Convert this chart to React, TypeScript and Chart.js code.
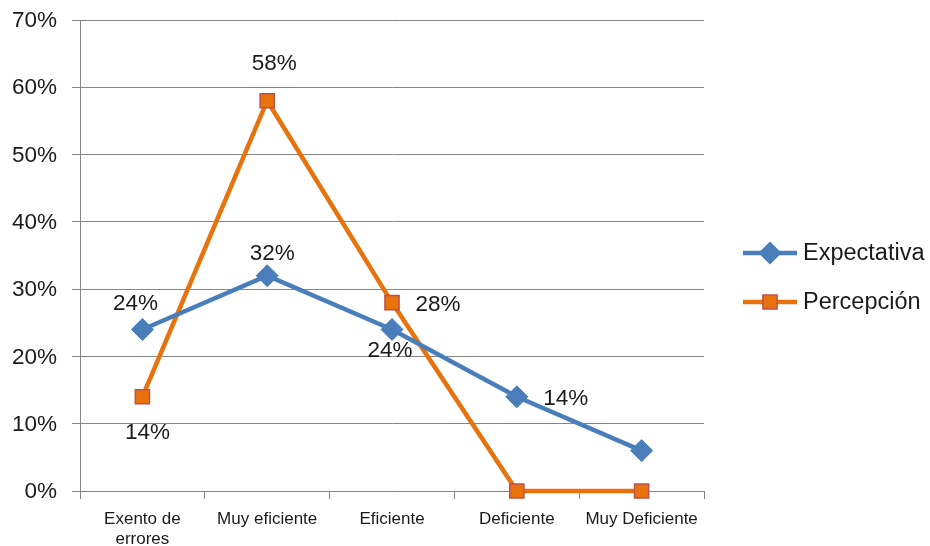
import React, { useEffect, useRef } from "react";
import { Chart, registerables } from "chart.js";

Chart.register(...registerables);

const categories: (string | string[])[] = [
  ["Exento de", "errores"],
  "Muy eficiente",
  "Eficiente",
  "Deficiente",
  "Muy Deficiente",
];
const expectativa = [24, 32, 24, 14, 6];
const percepcion = [14, 58, 28, 0, 0];
const yTicks = [0, 10, 20, 30, 40, 50, 60, 70];

// label placement (offset from the point in px); null = no label
const expLabelOffsets: ([number, number] | null)[] = [[-7, -26], [5, -22], [-2, 21], [49, 2], null];
const perLabelOffsets: ([number, number] | null)[] = [[5, 36], [7, -37], [46, 2], null, null];

const BLUE = "#4A7EBB";
const ORANGE = "#E8720C";
const FONT = "'Liberation Sans', Arial, sans-serif";

const labelPlugin = {
  id: "pointLabels",
  afterDatasetsDraw(chart: any) {
    const ctx = chart.ctx;
    const offsets = [expLabelOffsets, perLabelOffsets];
    ctx.save();
    ctx.font = `22.5px ${FONT}`;
    ctx.fillStyle = "#1a1a1a";
    ctx.textAlign = "center";
    ctx.textBaseline = "middle";
    chart.data.datasets.forEach((ds: any, di: number) => {
      const meta = chart.getDatasetMeta(di);
      meta.data.forEach((pt: any, i: number) => {
        const off = offsets[di][i];
        if (!off) return;
        ctx.fillText(`${ds.data[i]}%`, pt.x + off[0], pt.y + off[1]);
      });
    });
    ctx.restore();
  },
};

const legendPlugin = {
  id: "customLegend",
  afterDraw(chart: any) {
    const ctx = chart.ctx;
    const items = [
      { text: "Expectativa", color: BLUE, style: "rectRot", border: BLUE, radius: 10.5, y: 253 },
      { text: "Percepción", color: ORANGE, style: "rect", border: "#C0504D", radius: 10, y: 302 },
    ];
    ctx.save();
    items.forEach((it) => {
      ctx.strokeStyle = it.color;
      ctx.lineWidth = 4.5;
      ctx.beginPath();
      ctx.moveTo(743, it.y);
      ctx.lineTo(797, it.y);
      ctx.stroke();
      ctx.fillStyle = it.color;
      ctx.strokeStyle = it.border;
      ctx.lineWidth = 1.5;
      if (it.style === "rectRot") {
        ctx.beginPath();
        ctx.moveTo(770, it.y - it.radius);
        ctx.lineTo(770 + it.radius, it.y);
        ctx.lineTo(770, it.y + it.radius);
        ctx.lineTo(770 - it.radius, it.y);
        ctx.closePath();
        ctx.fill();
        ctx.stroke();
      } else {
        const s = it.radius * Math.SQRT1_2;
        ctx.beginPath();
        ctx.rect(770 - s, it.y - s, 2 * s, 2 * s);
        ctx.fill();
        ctx.stroke();
      }
      ctx.fillStyle = "#1a1a1a";
      ctx.font = `23.5px ${FONT}`;
      ctx.textAlign = "left";
      ctx.textBaseline = "middle";
      ctx.fillText(it.text, 803, it.y + 1);
    });
    ctx.restore();
  },
};

export default function App() {
  const ref = useRef<HTMLCanvasElement>(null);
  useEffect(() => {
    if (!ref.current) return;
    const chart = new Chart(ref.current, {
      type: "line",
      data: {
        labels: categories,
        datasets: [
          {
            label: "Expectativa",
            data: expectativa,
            borderColor: BLUE,
            backgroundColor: BLUE,
            borderWidth: 4.5,
            pointStyle: "rectRot",
            pointRadius: 11,
            pointBackgroundColor: BLUE,
            pointBorderColor: BLUE,
            pointBorderWidth: 1,
            tension: 0,
            clip: false,
          },
          {
            label: "Percepción",
            data: percepcion,
            borderColor: ORANGE,
            backgroundColor: ORANGE,
            borderWidth: 4.5,
            pointStyle: "rect",
            pointRadius: 10,
            pointBackgroundColor: ORANGE,
            pointBorderColor: "#C0504D",
            pointBorderWidth: 1.5,
            tension: 0,
            clip: false,
          },
        ],
      },
      options: {
        responsive: false,
        animation: false,
        layout: { padding: { left: 0, right: 226, top: 20, bottom: 0 } },
        plugins: { legend: { display: false }, tooltip: { enabled: false } },
        scales: {
          x: {
            offset: true,
            grid: {
              offset: true,
              drawOnChartArea: false,
              drawTicks: true,
              tickLength: 8,
              color: "#868686",
            },
            border: { color: "#868686", width: 1 },
            ticks: {
              font: { family: FONT, size: 17 },
              color: "#1a1a1a",
              padding: 10,
              maxRotation: 0,
              autoSkip: false,
            },
            afterFit(scale: any) {
              scale.height = 55;
            },
          },
          y: {
            min: 0,
            max: 70,
            afterBuildTicks(scale: any) {
              scale.ticks = yTicks.map((v) => ({ value: v }));
            },
            grid: { color: "#868686", tickLength: 8, lineWidth: 1 },
            border: { color: "#868686", width: 1 },
            ticks: {
              font: { family: FONT, size: 22.5, lineHeight: 0.5 },
              color: "#1a1a1a",
              padding: 15,
              labelOffset: 1,
              callback: (v: any) => `${v}%`,
            },
            afterFit(scale: any) {
              scale.width = 80;
              scale.paddingTop = 0;
              scale.paddingBottom = 0;
            },
          },
        },
      },
      plugins: [labelPlugin, legendPlugin],
    });
    return () => chart.destroy();
  }, []);
  return (
    <div style={{ position: "fixed", left: 0, top: 0, width: 930, height: 546, background: "#fff" }}>
      <canvas ref={ref} width={930} height={546} />
    </div>
  );
}
